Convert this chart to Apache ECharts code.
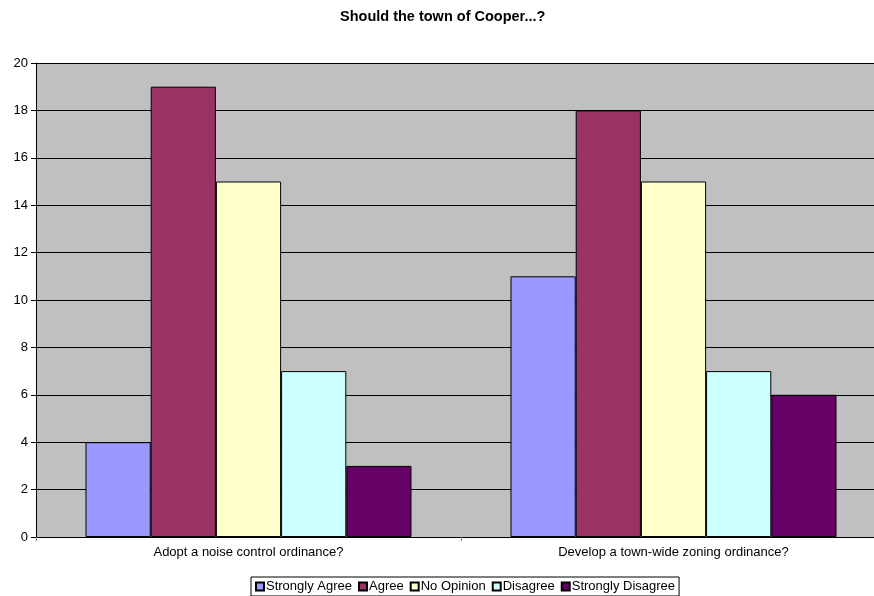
<!DOCTYPE html>
<html><head><meta charset="utf-8">
<script src="https://cdn.jsdelivr.net/npm/echarts@6/dist/echarts.min.js"></script>
<style>html,body{margin:0;padding:0;background:#fff;overflow:hidden}#c{width:886px;height:596px}</style>
</head><body><div id="c"></div>
<script>
const categories = ["Adopt a noise control ordinance?", "Develop a town-wide zoning ordinance?"];
const seriesNames = ["Strongly Agree", "Agree", "No Opinion", "Disagree", "Strongly Disagree"];
const stronglyAgree = [4, 11];
const agree = [19, 18];
const noOpinion = [15, 15];
const disagree = [7, 7];
const stronglyDisagree = [3, 6];
const colors = ["#9999FF", "#993366", "#FFFFCC", "#CCFFFF", "#660066"];
const values = [stronglyAgree, agree, noOpinion, disagree, stronglyDisagree];

const font = "Arial, 'Liberation Sans', sans-serif";
const chart = echarts.init(document.getElementById('c'), null, {renderer: 'canvas'});
chart.setOption({
  animation: false,
  title: {text: "Should the town of Cooper...?", left: 335, top: 4,
    textStyle: {fontFamily: font, fontSize: 14.5, fontWeight: 'bold', color: '#000'}},
  legend: {
    left: 251, top: 577, padding: [3, 4], itemGap: 6, itemWidth: 8, itemHeight: 8,
    borderColor: '#000', borderWidth: 1, icon: 'rect',
    textStyle: {fontFamily: font, fontSize: 13, color: '#000', padding: [0, 0, 0, -3]},
    data: seriesNames
  },
  grid: {left: 36, right: 0, top: 63, bottom: 59, show: true, backgroundColor: '#C0C0C0', borderWidth: 0},
  xAxis: {
    type: 'category', data: categories,
    axisLine: {lineStyle: {color: '#000'}},
    axisTick: {show: true, alignWithLabel: false, length: 4, lineStyle: {color: '#808080'}},
    axisLabel: {fontFamily: font, fontSize: 13, color: '#000', margin: 9}
  },
  yAxis: {
    type: 'value', min: 0, max: 20, interval: 2,
    axisLine: {show: true, lineStyle: {color: '#000'}},
    axisTick: {show: true, length: 5, lineStyle: {color: '#000'}},
    splitLine: {lineStyle: {color: '#000', width: 1}},
    axisLabel: {fontFamily: font, fontSize: 13, color: '#000', margin: 8}
  },
  series: values.map((v, i) => ({
    name: seriesNames[i], type: 'bar', data: v,
    barGap: '0%', barCategoryGap: '23.3%',
    itemStyle: {color: colors[i], borderColor: '#000', borderWidth: 1}
  }))
});
</script></body></html>
